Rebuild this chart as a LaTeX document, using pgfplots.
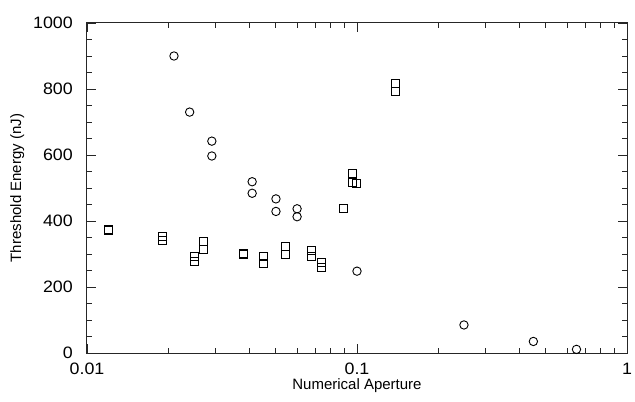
\documentclass[border=0pt]{standalone}
\usepackage{pgfplots}
\pgfplotsset{compat=1.18}
\usepackage{fontspec}
\setmainfont{Liberation Sans}
\newfontfamily\tickfont[FakeStretch=1.08]{Liberation Sans}

\begin{document}
\begin{tikzpicture}
\path[use as bounding box] (-87bp,-49bp) rectangle (548bp,353bp);
\begin{axis}[
    scale only axis,
    width=540bp, height=330bp,
    xmode=log,
    xmin=0.01, xmax=1,
    ymin=0, ymax=1000,
    xtick={0.01,0.1,1},
    xticklabels={0.01,0.1,1},
    ytick={0,200,400,600,800,1000},
    yticklabels={0,200,400,600,800,1000},
    minor y tick num=3,
    tick align=inside,
    major tick length=9bp,
    minor tick length=5.5bp,
    /pgf/number format/assume math mode=true,
    /pgf/number format/1000 sep={},
    axis line style={line width=1bp, black!85},
    every tick/.style={line width=0.9bp, black!85},
    every minor tick/.style={line width=0.8bp, black!85},
    xticklabel style={font=\tickfont\fontsize{16.5bp}{19bp}\selectfont, inner sep=0pt, anchor=north, yshift=-10bp},
    yticklabel style={font=\tickfont\fontsize{16.5bp}{19bp}\selectfont, inner sep=0pt, anchor=east, xshift=-14bp},
    xlabel={Numerical Aperture},
    ylabel={Threshold Energy (nJ)},
    xlabel style={font=\fontsize{15bp}{18bp}\selectfont, at={(axis description cs:0.5,-0.1121)}, anchor=base},
    ylabel style={font=\fontsize{15bp}{18bp}\selectfont, at={(axis description cs:-0.1222,0.5)}, anchor=base},
    clip=false,
]
% circles
\addplot[only marks, mark=o, mark size=4.2bp, mark options={line width=0.9bp, black}] coordinates {
    (0.021, 900) (0.024, 730) (0.029, 642) (0.029, 597)
    (0.0409, 519) (0.0409, 484) (0.0501, 467) (0.0501, 429)
    (0.060, 437) (0.060, 413) (0.1, 248) (0.249, 85)
    (0.45, 35) (0.65, 11)
};
% squares
\addplot[only marks, mark=square, mark size=4bp, mark options={line width=0.9bp, black}] coordinates {
    (0.012, 373) (0.012, 370) (0.019, 352) (0.019, 342)
    (0.0251, 294) (0.0251, 278) (0.027, 339) (0.027, 315)
    (0.0379, 301) (0.0379, 299) (0.045, 294) (0.045, 272)
    (0.0542, 324) (0.0542, 300) (0.0681, 312) (0.0681, 292)
    (0.0741, 274) (0.0741, 260) (0.0889, 437)
    (0.0965, 544) (0.0965, 518) (0.0993, 515)
    (0.139, 818) (0.139, 794)
};
\end{axis}
\end{tikzpicture}
\end{document}
